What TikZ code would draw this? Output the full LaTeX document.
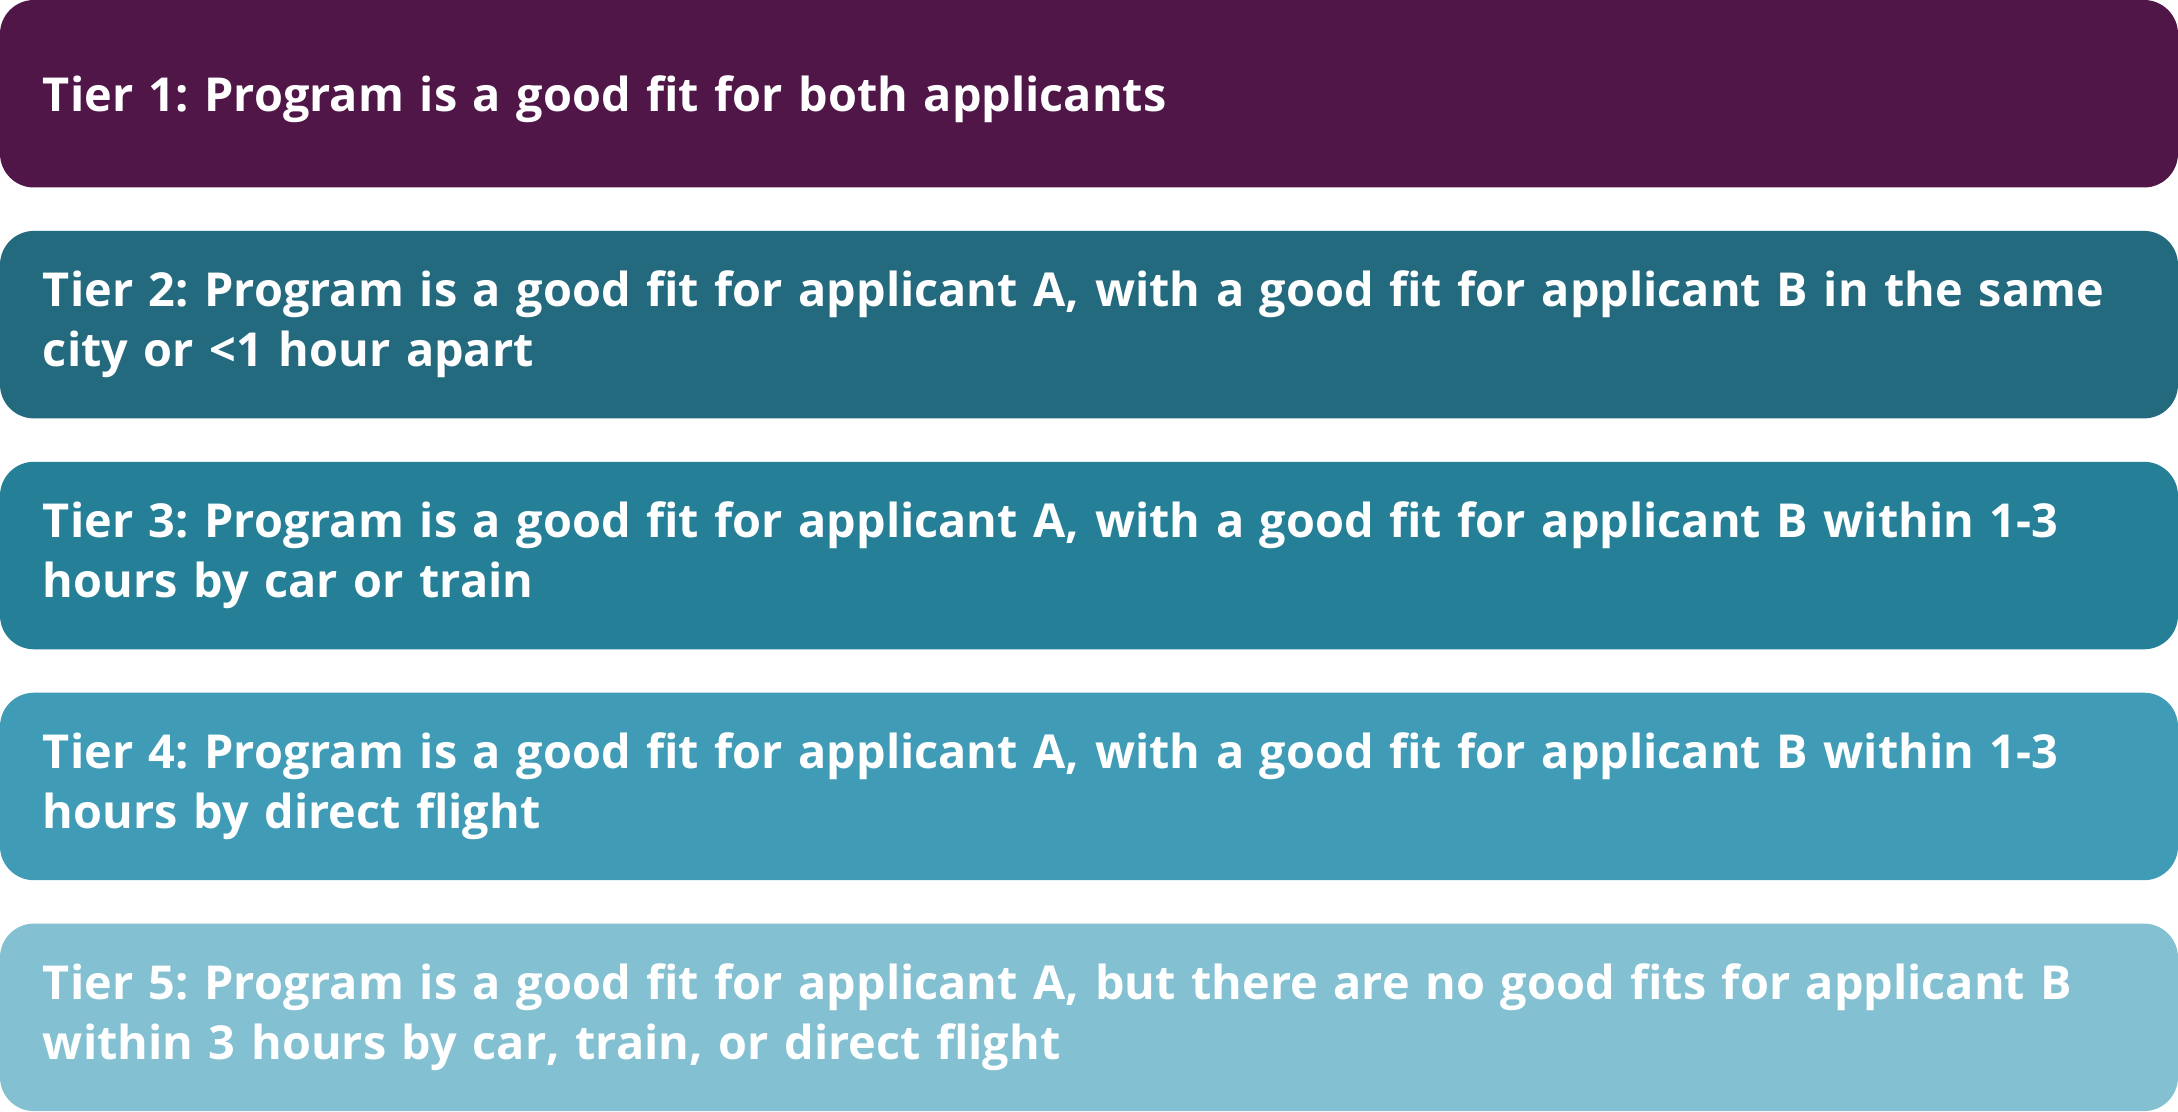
\documentclass[tikz,border=0pt]{standalone}
\usepackage{fontspec}
\setmainfont{Open Sans}
\usetikzlibrary{positioning}

\definecolor{tierone}{HTML}{501648}
\definecolor{tiertwo}{HTML}{246A7E}
\definecolor{tierthree}{HTML}{258097}
\definecolor{tierfour}{HTML}{409CB6}
\definecolor{tierfive}{HTML}{82C0D2}

\begin{document}
\frenchspacing
\begin{tikzpicture}[node distance=21.7pt]
\tikzset{
tierbox/.style = {rectangle, rounded corners=17pt, text=white, align=left,
  font=\bfseries\fontsize{23.4}{30}\selectfont,
  text width=1046pt, inner xsep=21.5pt, inner ysep=0pt,
  minimum height=93.75pt, outer sep=0pt}
}

\node [tierbox, fill=tierone, text depth=0pt](tier1) {Tier 1: Program is a good fit for both applicants};
\node [tierbox, fill=tiertwo, below = of tier1](tier2) {Tier 2: Program is a good fit for applicant A, with a good fit for applicant B in the same\\city or <1 hour apart};
\node [tierbox, fill=tierthree, below = of tier2](tier3) {Tier 3: Program is a good fit for applicant A, with a good fit for applicant B within 1-3\\hours by car or train};
\node [tierbox, fill=tierfour, below = of tier3](tier4) {Tier 4: Program is a good fit for applicant A, with a good fit for applicant B within 1-3\\hours by direct flight};
\node [tierbox, fill=tierfive, below = of tier4](tier5) {Tier 5: Program is a good fit for applicant A, but there are no good fits for applicant B\\within 3 hours by car, train, or direct flight};
\end{tikzpicture}
\end{document}
